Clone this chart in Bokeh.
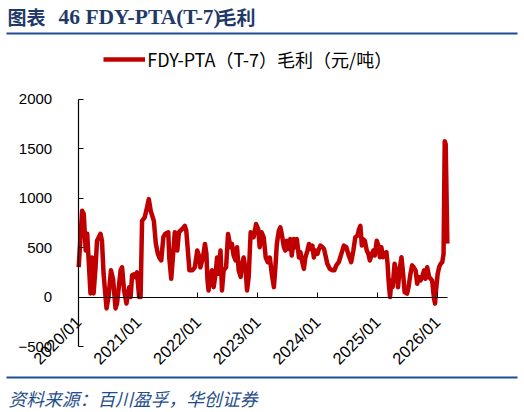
import math
import pandas as pd
from bokeh.plotting import figure
from bokeh.models import (FixedTicker, DatetimeTickFormatter, Label, BoxAnnotation,
                          Legend, LegendItem, Range1d)
from bokeh.embed import file_html
from bokeh.resources import INLINE

# ---------------- data ----------------
d20 = ["2020-01-04","2020-01-25","2020-02-04","2020-02-16","2020-02-25","2020-03-04","2020-03-16","2020-03-25",
       "2020-04-04","2020-04-16","2020-04-25","2020-05-16","2020-05-25","2020-06-04","2020-06-22","2020-07-04",
       "2020-07-19","2020-08-01","2020-08-16","2020-08-25","2020-09-16","2020-09-25","2020-10-07","2020-10-22",
       "2020-11-07","2020-11-16","2020-11-25","2020-12-07","2020-12-16","2020-12-25"]
v20 = [302, 872, 840, 470, 640, 400, 37, 400, 37, 300, 570, 640, 570, 235, -115, 0, 270, 180, -115, -65,
       270, 300, 67, -65, 100, 0, 220, 230, 200, 250]

d21 = ["2021-01-07","2021-01-16","2021-01-25","2021-02-10","2021-02-22","2021-03-07","2021-03-19","2021-04-07",
       "2021-04-19","2021-05-01","2021-05-10","2021-05-22","2021-06-04","2021-06-16","2021-07-04","2021-07-10",
       "2021-07-22","2021-08-01","2021-08-13","2021-08-28","2021-09-07","2021-09-28","2021-10-13","2021-10-22",
       "2021-11-04","2021-11-10","2021-11-28","2021-12-13","2021-12-28"]
v21 = [0, 0, 770, 805, 890, 990, 870, 770, 540, 440, 400, 370, 605, 640, 655, 400, 185, 400, 655, 470,
       655, 688, 720, 670, 400, 270, 270, 300, 470]

d22 = ["2022-01-07","2022-01-16","2022-02-01","2022-02-13","2022-02-22","2022-02-28","2022-03-07","2022-03-19",
       "2022-03-28","2022-04-07","2022-04-19","2022-04-28","2022-05-07","2022-05-19","2022-05-28","2022-06-07",
       "2022-06-22","2022-07-04","2022-07-19","2022-07-28","2022-08-07","2022-08-19","2022-08-28","2022-09-07",
       "2022-09-19","2022-09-28","2022-10-07","2022-10-19","2022-10-28","2022-11-07","2022-11-19","2022-11-28",
       "2022-12-07","2022-12-22"]
v22 = [420, 300, 400, 537, 436, 180, 67, 235, 270, 100, 235, 400, 235, 470, 67, 270, 300, 638, 504, 537,
       420, 370, 504, 270, 203, 336, 400, 285, 67, 203, 655, 638, 604, 738]

d23 = ["2023-01-04","2023-01-13","2023-01-25","2023-02-07","2023-02-19","2023-03-04","2023-03-16","2023-03-28",
       "2023-04-10","2023-04-19","2023-04-28","2023-05-10","2023-05-19","2023-05-28","2023-06-10","2023-06-19",
       "2023-06-28","2023-07-10","2023-07-19","2023-07-28","2023-08-10","2023-08-19","2023-08-28","2023-09-10",
       "2023-09-19","2023-09-28","2023-10-10","2023-10-19","2023-11-01","2023-11-10","2023-11-19","2023-12-01",
       "2023-12-10","2023-12-19"]
v23 = [688, 504, 655, 600, 400, 352, 400, 235, 100, 300, 537, 670, 705, 638, 504, 470, 570, 487, 587, 420,
       587, 504, 587, 400, 453, 370, 285, 400, 470, 537, 487, 520, 400, 470]

d24 = ["2024-01-01","2024-01-10","2024-01-19","2024-02-01","2024-02-10","2024-02-19","2024-03-01","2024-03-16",
       "2024-04-01","2024-04-13","2024-04-25","2024-05-10","2024-05-19","2024-06-01","2024-06-10","2024-06-25",
       "2024-07-10","2024-07-25","2024-08-07","2024-08-19","2024-09-01","2024-09-10","2024-09-19","2024-09-28",
       "2024-10-04","2024-10-16","2024-10-28","2024-11-07","2024-11-16","2024-11-28","2024-12-07","2024-12-16",
       "2024-12-28"]
v24 = [436, 487, 520, 504, 487, 420, 336, 285, 270, 270, 320, 352, 400, 470, 520, 504, 420, 352, 470, 604,
       620, 680, 720, 520, 587, 570, 470, 436, 370, 436, 470, 420, 570]

d25 = ["2025-01-07","2025-01-16","2025-01-25","2025-02-04","2025-02-16","2025-02-25","2025-03-04","2025-03-10",
       "2025-03-19","2025-03-28","2025-04-04","2025-04-16","2025-04-28","2025-05-07","2025-05-16","2025-05-28",
       "2025-06-07","2025-06-16","2025-07-01","2025-07-10","2025-07-22","2025-08-01","2025-08-10","2025-08-22",
       "2025-09-01","2025-09-13","2025-09-22","2025-10-01","2025-10-13","2025-10-22","2025-11-01","2025-11-13",
       "2025-11-22","2025-12-01","2025-12-13","2025-12-19","2025-12-25"]
v25 = [520, 403, 504, 403, 436, 453, 336, 168, 0, 168, 100, 336, 235, 100, 270, 403, 235, 50, 34, 100,
       235, 320, 302, 270, 134, 201, 168, 201, 270, 185, 302, 201, 185, 168, -17, -67, 67]

d26 = ["2026-01-04","2026-01-13","2026-01-22","2026-02-01","2026-02-09","2026-02-16","2026-02-22","2026-03-04"]
v26 = [235, 302, 336, 352, 436, 1575, 1545, 540]

x_tick_labels = ["2020/01", "2021/01", "2022/01", "2023/01", "2024/01", "2025/01", "2026/01"]
y_ticks = [-500, 0, 500, 1000, 1500, 2000]
x_start, x_end = "2020-01-01", "2026-03-05"
y_start, y_end = -500, 2000

series_name = "FDY-PTA（T-7）毛利（元/吨）"
title_a = "图表"
title_b = "46 FDY-PTA(T-7)"
title_c = "毛利"
source_text = "资料来源：百川盈孚，华创证券"

# ---------------- layout constants (pixels) ----------------
W, H = 524, 412
PX_L, PX_R = 77.7, 447.0     # where x_start / x_end sit
PX_T, PX_B = 98.7, 346.0     # where y_end / y_start sit

dates = pd.to_datetime(d20 + d21 + d22 + d23 + d24 + d25 + d26)
vals = v20 + v21 + v22 + v23 + v24 + v25 + v26

t0 = pd.Timestamp(x_start).value / 1e6
t1 = pd.Timestamp(x_end).value / 1e6
mpp = (t1 - t0) / (PX_R - PX_L)
upp = (y_end - y_start) / (PX_B - PX_T)

p = figure(width=W, height=H, x_axis_type="datetime", output_backend="svg", toolbar_location=None,
           x_range=Range1d(t0 - PX_L * mpp, t0 + (W - PX_L) * mpp),
           y_range=Range1d(y_start - (H - PX_B) * upp, y_end + PX_T * upp),
           min_border=0, min_border_left=0, min_border_right=0, min_border_top=0, min_border_bottom=0)
p.background_fill_color = "white"
p.border_fill_color = "white"
p.outline_line_color = None
p.xgrid.visible = False
p.ygrid.visible = False

r = p.line(dates, vals, line_color="#C00000", line_width=4.5, line_join="round")

tick_ms = [pd.Timestamp(s.replace("/", "-") + "-01").value / 1e6 for s in x_tick_labels]
p.xaxis.ticker = FixedTicker(ticks=tick_ms)
p.xaxis.formatter = DatetimeTickFormatter(years="%Y/%m", months="%Y/%m", days="%Y/%m", hours="%Y/%m")
p.yaxis.ticker = FixedTicker(ticks=y_ticks)

for ax in (p.xaxis[0], p.yaxis[0]):
    ax.major_tick_in = 5
    ax.major_tick_out = 0
    ax.minor_tick_line_color = None
    ax.axis_line_color = "black"
    ax.axis_line_width = 1.2
    ax.major_tick_line_color = "black"
    ax.major_label_text_font = "Liberation Sans"
    ax.major_label_text_color = "black"

p.xaxis.major_label_text_font_size = "16.5px"
p.yaxis.major_label_text_font_size = "15px"
p.xaxis.fixed_location = 0
p.xaxis.bounds = (t0, t1)
p.xaxis.major_label_orientation = math.pi / 4
p.xaxis.major_label_standoff = 22
p.yaxis.fixed_location = t0
p.yaxis.bounds = (y_start, y_end)
p.yaxis.major_label_standoff = 26

# legend (frame covers the whole canvas)
legend = Legend(items=[LegendItem(label=series_name, renderers=[r])],
                location=(103.3, H - 71.7), orientation="horizontal",
                glyph_width=42, glyph_height=16, label_standoff=2, padding=0, margin=0,
                border_line_color=None, background_fill_alpha=0,
                label_text_font="Noto Sans CJK SC", label_text_font_size="18px",
                label_text_color="black", label_height=20)
p.add_layout(legend)

# title / footer (canvas coordinates, y downward)
TITLE_COLOR = "#1F3A68"
RULE_COLOR = "#1F4E8C"

def lab(text, x, y, font, size, color, style="normal"):
    p.add_layout(Label(text=text, x=x, y=y, x_units="canvas", y_units="canvas",
                       text_font=font, text_font_size=size, text_color=color,
                       text_font_style=style, text_baseline="middle", text_align="left"))

lab(title_a, 7, 16, "Noto Sans CJK SC", "19px", TITLE_COLOR, "bold")
lab(title_b, 58, 16, "Liberation Serif", "21.5px", TITLE_COLOR, "bold")
lab(title_c, 217, 16, "Noto Sans CJK SC", "19px", TITLE_COLOR, "bold")
lab(source_text, 8, 397, "Noto Sans CJK SC", "17.8px", RULE_COLOR, "italic")

for top in (32, 376):
    p.add_layout(BoxAnnotation(left=6, right=517, top=top, bottom=top + 2,
                               left_units="canvas", right_units="canvas",
                               top_units="canvas", bottom_units="canvas",
                               fill_color=RULE_COLOR, fill_alpha=1, line_color=None))

open("out.html", "w").write(file_html(p, INLINE))
